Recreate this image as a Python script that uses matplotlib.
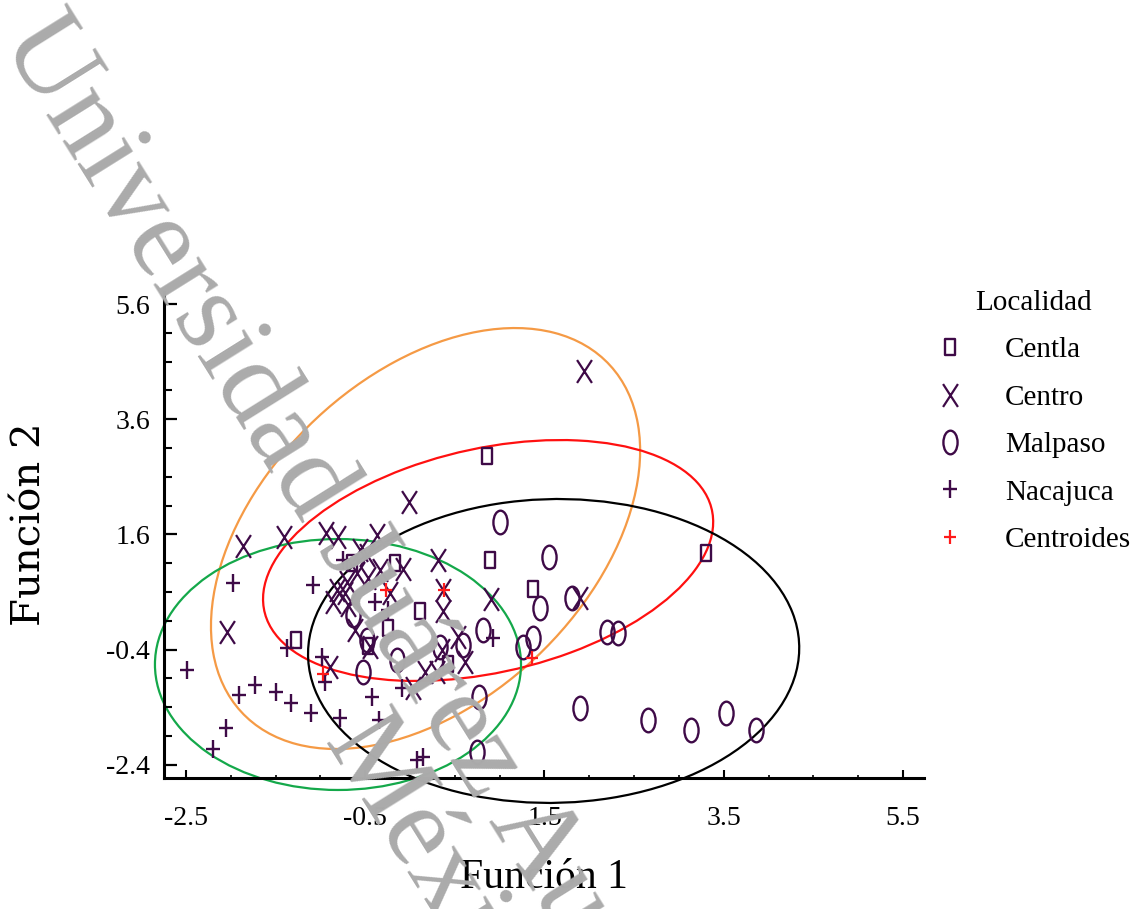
import numpy as np
import matplotlib
matplotlib.use("Agg")
import matplotlib.pyplot as plt
from matplotlib.path import Path
from matplotlib.patches import Ellipse
from matplotlib.lines import Line2D
from matplotlib.ticker import FixedLocator

plt.rcParams["axes.unicode_minus"] = False
plt.rcParams["font.family"] = ["Liberation Serif", "DejaVu Serif"]

# ---------------- data ----------------
centla_x = [0.86, 3.30, 0.89, 1.37, -0.17, -0.65, 0.11, -0.25, -1.27, -0.47, 0.42]
centla_y = [2.96, 1.28, 1.16, 0.65, 1.10, 1.10, 0.27, -0.03, -0.23, -0.34, -0.65]

centro_x = [1.94, -0.01, -1.86, -1.41, -0.94, -0.80, -0.37, -0.56, -0.48, 0.31,
            -0.08, -0.59, -0.47, -0.33, -0.70, -0.81, -0.73, -0.22, -0.86, -0.69,
            0.37, 0.37, 0.90, 1.90, -2.04, -0.61, -0.45, 0.36, 0.54, 0.61,
            0.17, 0.30, 0.03, -0.89]
centro_y = [4.44, 2.16, 1.40, 1.55, 1.62, 1.55, 1.59, 1.33, 1.24, 1.16,
            1.00, 0.93, 0.84, 0.98, 0.77, 0.63, 0.58, 0.58, 0.43, 0.37,
            0.63, 0.27, 0.48, 0.50, -0.09, -0.06, -0.36, -0.41, -0.18, -0.62,
            -0.79, -0.79, -1.07, -0.70]

malpaso_x = [1.00, 1.55, 1.45, 1.81, 0.81, 1.37, 1.26, 2.20, 2.32, 0.33, 0.59,
             -0.15, -0.64, -0.48, -0.52, 0.77, 1.90, 2.66, 3.13, 3.52, 3.86, 0.75]
malpaso_y = [1.82, 1.21, 0.32, 0.50, -0.06, -0.20, -0.36, -0.09, -0.11, -0.36, -0.32,
             -0.58, 0.20, -0.23, -0.79, -1.22, -1.41, -1.62, -1.80, -1.50, -1.80, -2.18]

nacajuca_x = [-1.98, -1.08, -2.49, -1.91, -1.73, -1.50, -1.33, -1.10, -0.78, -2.05,
              -2.20, -1.37, -0.98, -0.95, -0.42, -0.35, -0.09, 0.08, 0.15, -0.75,
              -0.39, -0.25, 0.93]
nacajuca_y = [0.76, 0.72, -0.75, -1.19, -1.01, -1.14, -1.33, -1.50, -1.59, -1.76,
              -2.13, -0.37, -0.53, -0.96, -1.22, -1.62, -1.07, -2.32, -2.27, 1.16,
              0.43, 0.29, -0.20]

centroid_x = [-0.97, -0.27, 0.38, 1.36]
centroid_y = [-0.82, 0.63, 0.63, -0.55]

# ellipses: centre, half extents along x and y, cosine of phase between them
ell_cx = [0.173, 0.871, 1.602, -0.804]
ell_cy = [1.529, 1.147, -0.424, -0.659]
ell_ax = [2.394, 2.511, 2.740, 2.042]
ell_ay = [3.655, 2.092, 2.639, 2.179]
ell_cos = [0.417, 0.32, 0.02, 0.0]
ell_colors = ["#f59a45", "#ff1010", "#000000", "#14a84a"]

group_labels = ["Centla", "Centro", "Malpaso", "Nacajuca", "Centroides"]
xtick_vals = [-2.5, -0.5, 1.5, 3.5, 5.5]
xtick_labels = ["-2.5", "-0.5", "1.5", "3.5", "5.5"]
ytick_vals = [-2.4, -0.4, 1.6, 3.6, 5.6]
ytick_labels = ["-2.4", "-0.4", "1.6", "3.6", "5.6"]

# ---------------- markers ----------------
def x_marker(w):
    return Path([(-w, -1), (w, 1), (-w, 1), (w, -1)],
                [Path.MOVETO, Path.LINETO, Path.MOVETO, Path.LINETO])

def plus_marker(w):
    return Path([(-w, 0), (w, 0), (0, -1), (0, 1)],
                [Path.MOVETO, Path.LINETO, Path.MOVETO, Path.LINETO])

def rect_marker(w):
    return Path([(-w, -1), (w, -1), (w, 1), (-w, 1), (-w, -1)],
                [Path.MOVETO, Path.LINETO, Path.LINETO, Path.LINETO, Path.CLOSEPOLY])

def oval_marker(w):
    c = Path.unit_circle()
    return Path(c.vertices * np.array([w, 1.0]), c.codes)

PURPLE = "#3e0a47"
RED = "#ff1a1a"

styles = [
    dict(marker=rect_marker(0.6), ms=11, mew=1.7, mec=PURPLE),
    dict(marker=x_marker(0.65), ms=16.5, mew=1.6, mec=PURPLE),
    dict(marker=oval_marker(0.6), ms=17, mew=1.7, mec=PURPLE),
    dict(marker=plus_marker(0.72), ms=13.5, mew=1.7, mec=PURPLE),
    dict(marker=plus_marker(0.85), ms=10.5, mew=1.6, mec=RED),
]

# ---------------- figure ----------------
W, H = 1136, 909
fig = plt.figure(figsize=(W / 100, H / 100), dpi=100)
ax = fig.add_axes([164 / W, 1 - 778 / H, (924 - 164) / W, (778 - 292) / H])
ax.set_xlim(-2.745, 5.734)
ax.set_ylim(-2.63, 5.81)

for cx, cy, a, b, c, col in zip(ell_cx, ell_cy, ell_ax, ell_ay, ell_cos, ell_colors):
    S = np.array([[a * a, a * b * c], [a * b * c, b * b]])
    vals, vecs = np.linalg.eigh(S)
    ang = np.degrees(np.arctan2(vecs[1, 1], vecs[0, 1]))
    e = Ellipse((cx, cy), 2 * np.sqrt(vals[1]), 2 * np.sqrt(vals[0]), angle=ang,
                fill=False, edgecolor=col, linewidth=1.6, clip_on=False, zorder=1)
    ax.add_patch(e)

series = [(centla_x, centla_y), (centro_x, centro_y), (malpaso_x, malpaso_y),
          (nacajuca_x, nacajuca_y), (centroid_x, centroid_y)]
handles = []
for (xs, ys), st, lab in zip(series, styles, group_labels):
    ax.plot(xs, ys, linestyle="none", marker=st["marker"], markersize=st["ms"],
            markeredgewidth=st["mew"], markeredgecolor=st["mec"], markerfacecolor="none",
            zorder=3 if lab != "Centroides" else 4, clip_on=False)
    handles.append(Line2D([], [], linestyle="none", marker=st["marker"], markersize=st["ms"],
                          markeredgewidth=st["mew"], markeredgecolor=st["mec"],
                          markerfacecolor="none", label=lab))

for s in ["top", "right"]:
    ax.spines[s].set_visible(False)
for s in ["left", "bottom"]:
    ax.spines[s].set_linewidth(2.2)

ax.set_xticks(xtick_vals, labels=xtick_labels)
ax.set_yticks(ytick_vals, labels=ytick_labels)
ax.xaxis.set_minor_locator(FixedLocator(np.arange(-2.5, 5.8, 0.5)))
ax.yaxis.set_minor_locator(FixedLocator(np.arange(-2.4, 5.8, 0.5)))
ax.tick_params(axis="y", which="major", direction="in", length=9.5, width=1.6,
               labelsize=20, pad=10)
ax.tick_params(axis="y", which="minor", direction="in", length=6, width=1.5)
ax.tick_params(axis="x", which="major", direction="in", length=6, width=1.5,
               labelsize=20, pad=20)
ax.tick_params(axis="x", which="minor", direction="in", length=2.5, width=1.2)

ax.set_xlabel("Función 1", fontsize=30, labelpad=20)
ax.set_ylabel("Función 2", fontsize=29, family="DejaVu Serif", va="center")
ax.yaxis.set_label_coords((30 - 164) / 760, (778 - 524) / 486)

leg = ax.legend(handles=handles, title="Localidad", loc="upper left",
                bbox_to_anchor=(935 / W, 1 - 290 / H), bbox_transform=fig.transFigure,
                frameon=False, fontsize=21, title_fontsize=21, handlelength=1.0,
                handletextpad=1.4, labelspacing=0.72, borderpad=0, borderaxespad=0)

# watermark
fig.text(0 / W, 1 - 40 / H, "Universidad Juárez Autónoma de Tabasco", rotation=-58,
         rotation_mode="anchor", ha="left", va="baseline", fontsize=84,
         color="#ababab", zorder=5)
fig.text(322 / W, 1 - 742 / H, "México", rotation=-58, rotation_mode="anchor", ha="left",
         va="baseline", fontsize=84, color="#ababab", zorder=5)

fig.savefig("out.png", dpi=100)
